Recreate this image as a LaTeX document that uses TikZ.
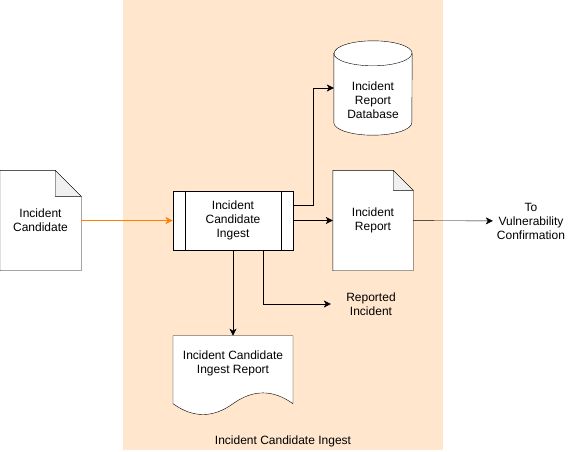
\documentclass[tikz,border=0pt]{standalone}
\usepackage{fontspec}
\setmainfont{Liberation Sans}
\usetikzlibrary{calc,arrows.meta}
\definecolor{ingestfill}{HTML}{FFE6CC}
\definecolor{feedorange}{HTML}{FF8000}
\pgfdeclarelayer{bg}
\pgfdeclarelayer{outline}
\pgfsetlayers{bg,outline,main}
\newcommand{\foldpage}[2]{%
  \draw[fill=white] (#1.north west) -- ($(#1.north east)+(-#2,0)$) -- ($(#1.north east)+(0,#2)$) -- (#1.south east) -- (#1.south west) -- cycle;
  \draw[fill=gray!12] ($(#1.north east)+(-#2,0)$) -- ($(#1.north east)+(-#2,#2)$) -- ($(#1.north east)+(0,#2)$) -- cycle;}

\begin{document}
\begin{tikzpicture}[x=1pt,y=-1pt,line width=1pt,
    font=\fontsize{12}{14}\selectfont,
    every node/.style={align=center,inner sep=0pt},
    >={Stealth[length=7pt,width=7pt,inset=2pt]}]
  \useasboundingbox (0,0) rectangle (571,451);
  \begin{pgfonlayer}{bg}
    \fill[ingestfill] (123,0) rectangle (443,450);
  \end{pgfonlayer}
  \node(CAND)[minimum width=81pt,minimum height=100pt] at (40.5,220.5) {Incident\\Candidate};
  \node(ING)[draw,fill=white,minimum width=120.6pt,minimum height=59pt] at (233,220.5) {Incident\\Candidate\\Ingest};
  \node(DB)[minimum width=78pt,minimum height=69pt] at (373,100.5) {Incident\\Report\\Database};
  \node(REP)[minimum width=80pt,minimum height=100pt] at (373,220.5) {Incident\\Report};
  \node(ICIR) at (233,363) {Incident Candidate\\Ingest Report};
  \node(VULN)[inner xsep=4pt] at (531,221) {To\\Vulnerability\\Confirmation};
  \node(RPTD)[minimum width=80pt] at (371,304) {Reported\\Incident};
  \node(TITLE) at (283,441) {Incident Candidate Ingest};
  \begin{pgfonlayer}{outline}
    \foldpage{CAND}{26}
    \foldpage{REP}{20}
    \draw[fill=white] ($(DB.north west)+(0,-12.5)$) -- ($(DB.south west)+(0,-12.5)$)
        arc[start angle=180,end angle=0,x radius=39,y radius=12.5]
        -- ($(DB.north east)+(0,-12.5)$)
        arc[start angle=0,end angle=-180,x radius=39,y radius=12.5] -- cycle;
    \draw ($(DB.north west)+(0,-12.5)$) arc[start angle=180,end angle=0,x radius=39,y radius=12.5];
    \draw[fill=white,shift={($(ICIR)+(-60,-27.3)$)}] (0,0) -- (120,0) -- (120,68)
        .. controls (100,53.6) and (80,53.6) .. (60,68)
        .. controls (40,82.4) and (20,82.4) .. (0,68) -- cycle;
  \end{pgfonlayer}
  \draw ($(ING.north west)+(12.5,0)$) -- ($(ING.south west)+(12.5,0)$);
  \draw ($(ING.north east)+(-12.5,0)$) -- ($(ING.south east)+(-12.5,0)$);
  % connectors
  \draw[->,feedorange] (CAND) -- (ING);
  \draw[->] ($(ING.east)+(0,-15.5)$) -- ++(20,0) |- ($(DB.west)+(0,-12.5)$);
  \draw[->] (ING) -- (REP);
  \draw[->] (REP) -- (VULN);
  \draw[->] (ING.south) -- ($(ICIR)+(0,-27.3)$);
  \draw[->] ($(ING.south)+(30.5,0)$) |- (RPTD);
\end{tikzpicture}
\end{document}
